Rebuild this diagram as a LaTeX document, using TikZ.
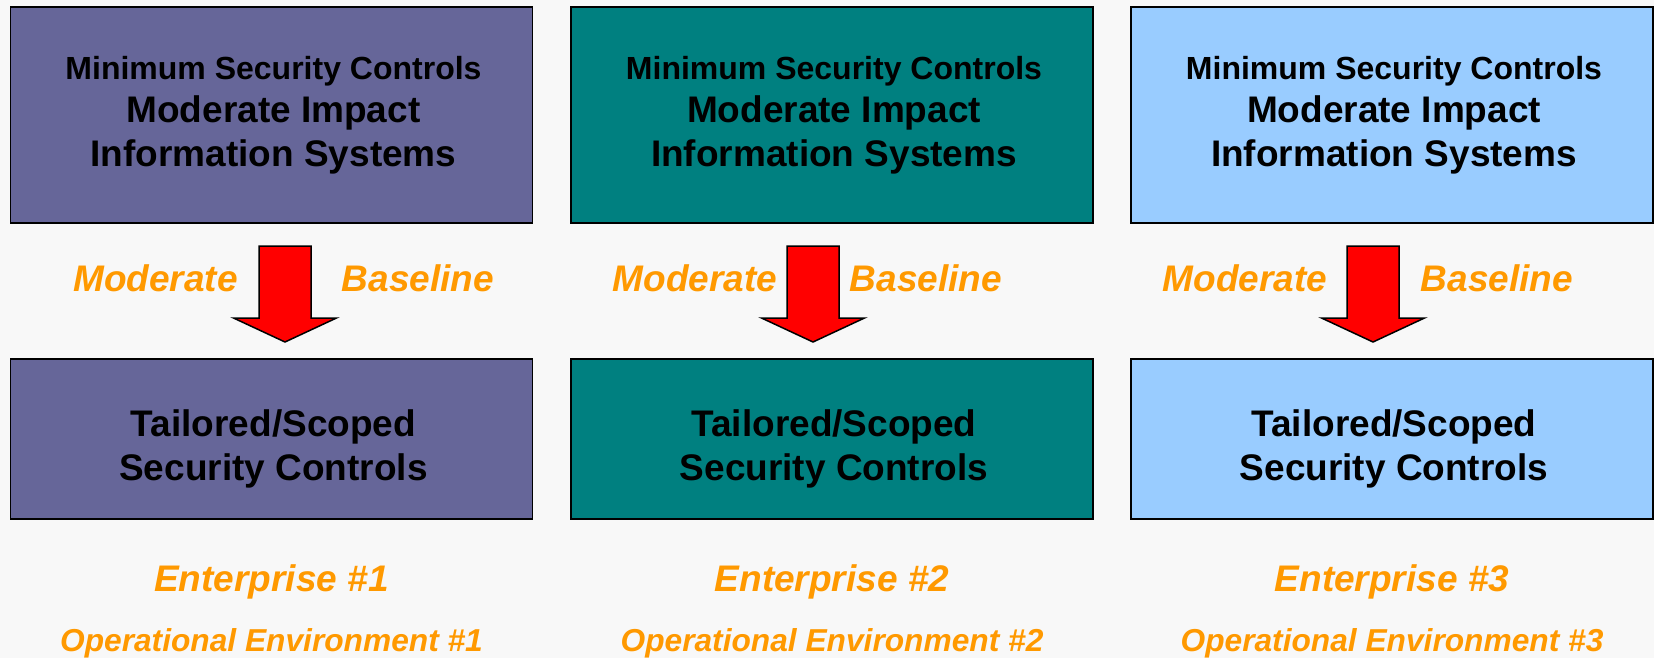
\documentclass[tikz,border=0pt]{standalone}
\usepackage{fontspec}
\setmainfont{Liberation Sans}
\definecolor{bgc}{HTML}{F8F8F8}
\definecolor{colA}{HTML}{666699}
\definecolor{colB}{HTML}{008080}
\definecolor{colC}{HTML}{99CCFF}
\definecolor{orng}{HTML}{FF9900}
\definecolor{redarrow}{HTML}{FF0000}
\begin{document}
\begin{tikzpicture}[x=1pt,y=-1pt,
  box/.style={draw=black, line width=1.6pt, inner sep=0pt, anchor=north west, minimum width=522pt},
  topbox/.style={box, minimum height=216pt},
  botbox/.style={box, minimum height=160pt},
  smalltxt/.style={inner sep=0pt, anchor=base, font=\fontsize{32}{38}\selectfont\bfseries},
  bigtxt/.style={inner sep=0pt, anchor=base, font=\fontsize{37}{44}\selectfont\bfseries},
  orlabel/.style={inner sep=0pt, anchor=base, text=orng, font=\fontsize{37}{44}\selectfont\bfseries\itshape},
  oplabel/.style={inner sep=0pt, anchor=base, text=orng, font=\fontsize{31.7}{38}\selectfont\bfseries\itshape},
  fatarrow/.style={draw=black, line width=1.5pt, fill=redarrow, line join=miter}
]
\fill[bgc] (0,0) rectangle (1654,658);
\useasboundingbox (0,0) rectangle (1654,658);
\foreach \L/\C/\A/\M/\B/\n in {9.5/colA/285/155.6/418/1, 570/colB/813/695/926/2, 1130/colC/1373/1245/1497/3}{
  \node[topbox, fill=\C] (top\n) at (\L,6) {};
  \node[botbox, fill=\C] (bot\n) at (\L,358) {};
  \node[smalltxt] (mintxt\n) at (\L+264,80) {Minimum Security Controls};
  \node[bigtxt] (modtxt\n) at (\L+264,122.5) {Moderate Impact};
  \node[bigtxt] (inftxt\n) at (\L+264,166.5) {Information Systems};
  \node[bigtxt] (tailtxt\n) at (\L+264,436) {Tailored/Scoped};
  \node[bigtxt] (sectxt\n) at (\L+264,480) {Security Controls};
  \node[orlabel] (modlab\n) at (\M,291.5) {Moderate};
  \node[orlabel] (baslab\n) at (\B,291.5) {Baseline};
  \node[orlabel] (ent\n) at (\L+262,591) {Enterprise \#\n};
  \node[oplabel] (oper\n) at (\L+262,651.5) {Operational Environment \#\n};
  \draw[fatarrow] (\A-26,246) -- (\A+26,246) -- (\A+26,318) -- (\A+51.5,318)
     -- (\A,342) -- (\A-51.5,318) -- (\A-26,318) -- cycle;
}
\end{tikzpicture}
\end{document}
